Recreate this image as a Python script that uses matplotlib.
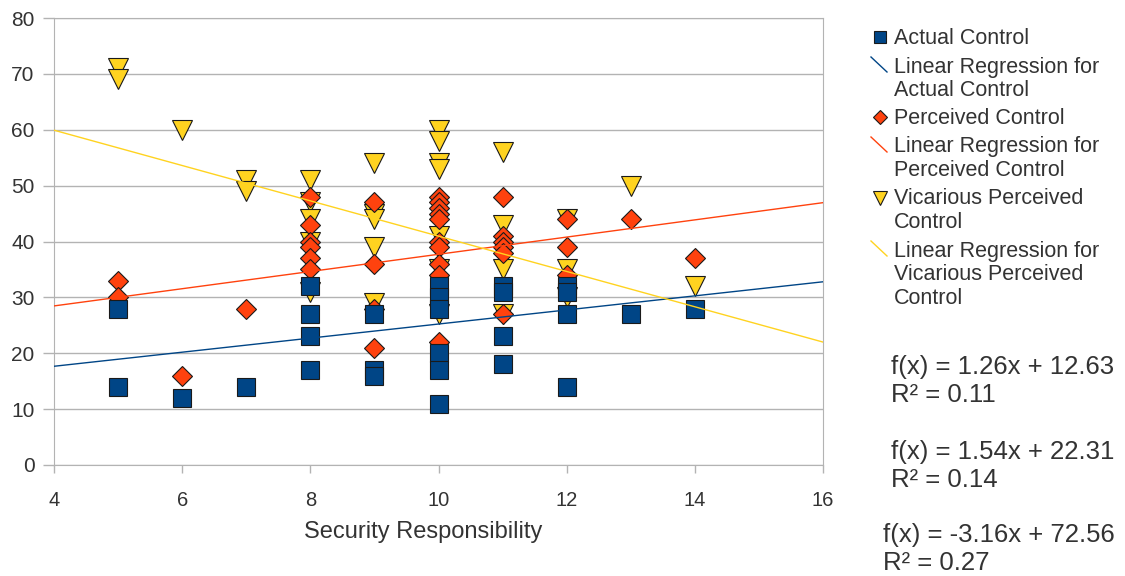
import numpy as np
import matplotlib
matplotlib.use("Agg")
import matplotlib.pyplot as plt
from matplotlib.lines import Line2D

plt.rcParams['font.family'] = ['Liberation Sans', 'DejaVu Sans']

# valores
actual_x = [5, 5, 6, 7, 8, 8, 8, 8, 9, 9, 9, 10, 10, 10, 10, 10, 10,
            11, 11, 11, 11, 12, 12, 12, 12, 13, 14]
actual_y = [28, 14, 12, 14, 32, 27, 23, 17, 27, 17, 16, 32, 30, 28, 20, 17, 11,
            32, 31, 23, 18, 32, 31, 27, 14, 27, 28]

perceived_x = [5, 5, 6, 7, 8, 8, 8, 8, 8, 8, 9, 9, 9, 9,
               10, 10, 10, 10, 10, 10, 10, 10, 10, 10,
               11, 11, 11, 11, 11, 11, 12, 12, 12, 13, 14]
perceived_y = [33, 30, 16, 28, 48, 43, 40, 39, 37, 35, 47, 36, 28, 21,
               48, 47, 46, 45, 44, 40, 39, 36, 34, 22,
               48, 41, 40, 39, 38, 27, 44, 39, 34, 44, 37]

vicarious_x = [5, 5, 6, 7, 7, 8, 8, 8, 8, 8, 9, 9, 9, 9, 9,
               10, 10, 10, 10, 10, 10, 10, 11, 11, 11, 11, 12, 12, 12, 13, 14]
vicarious_y = [71, 69, 60, 51, 49, 51, 47, 44, 40, 31, 54, 45, 44, 39, 29,
               60, 58, 54, 53, 41, 35, 27, 56, 43, 35, 27, 44, 35, 30, 50, 32]

slopes = [1.26, 1.54, -3.16]
intercepts = [12.63, 22.31, 72.56]
r2 = [0.11, 0.14, 0.27]

series_names = ["Actual Control", "Perceived Control", "Vicarious Perceived\nControl"]
reg_names = ["Linear Regression for\nActual Control",
             "Linear Regression for\nPerceived Control",
             "Linear Regression for\nVicarious Perceived\nControl"]

blue = '#004586'
red = '#ff420e'
yellow = '#ffd320'
gray = '#b3b3b3'
txt = '#333333'

W, H = 1125, 576
fig = plt.figure(figsize=(W/100, H/100), dpi=100)
ax = fig.add_axes([54/W, 1-465/H, (823-54)/W, (465-18)/H])

edge = '#1a1a1a'
ax.plot(vicarious_x, vicarious_y, linestyle='none', marker='v', markersize=14,
        markerfacecolor=yellow, markeredgecolor=edge, markeredgewidth=0.8, zorder=3)
ax.plot(perceived_x, perceived_y, linestyle='none', marker='D', markersize=9.7,
        markerfacecolor=red, markeredgecolor=edge, markeredgewidth=0.8, zorder=4)
ax.plot(actual_x, actual_y, linestyle='none', marker='s', markersize=13.5,
        markerfacecolor=blue, markeredgecolor=edge, markeredgewidth=0.8, zorder=5)

xr = np.array([4, 16])
for m, b, c in zip(slopes, intercepts, [blue, red, yellow]):
    ax.plot(xr, m*xr + b, color=c, linewidth=1.0, zorder=6)

ax.set_xlim(4, 16)
ax.set_ylim(0, 80)
ax.set_xticks(np.arange(4, 17, 2))
ax.set_yticks(np.arange(0, 81, 10))
ax.yaxis.grid(True, color=gray, linewidth=1)
ax.set_axisbelow(True)
for s in ax.spines.values():
    s.set_color(gray)
ax.tick_params(axis='y', length=8, width=1, color=gray, pad=6, labelsize=15, labelcolor=txt)
ax.tick_params(axis='x', length=6, width=1, color=gray, pad=13, labelsize=14.5, labelcolor=txt)
ax.set_xlabel("Security Responsibility", fontsize=17, color=txt)
ax.xaxis.set_label_coords((423 - 54) / (823 - 54), -(532 - 465) / (465 - 18))
ax.xaxis.label.set_va('center')


def fx(px):
    return px / W


def fy(py):
    return 1 - py / H


# leyenda manual
line_gap = 23.7
handles = [('s', blue, 9, 38), ('line', blue, 0, 67), ('D', red, 6.7, 118),
           ('line', red, 0, 147), ('v', yellow, 9.5, 199), ('line', yellow, 0, 251)]
labels = [series_names[0], reg_names[0], series_names[1], reg_names[1],
          series_names[2], reg_names[2]]
for (kind, col, ms, yc), lab in zip(handles, labels):
    if kind == 'line':
        fig.add_artist(Line2D([fx(871), fx(887)], [fy(yc-10), fy(yc+5)],
                              transform=fig.transFigure, color=col, linewidth=1))
    else:
        fig.add_artist(Line2D([fx(880)], [fy(yc-1)], transform=fig.transFigure,
                              linestyle='none', marker=kind, markersize=ms,
                              markerfacecolor=col, markeredgecolor=edge,
                              markeredgewidth=0.8))
    for i, part in enumerate(lab.split("\n")):
        fig.text(fx(894), fy(yc + i*line_gap), part, fontsize=15.5, color=txt,
                 ha='left', va='center')

# ecuaciones
eq_x = [891, 891, 883]
eq_y = [367, 452, 535]
for m, b, r, ex, ey in zip(slopes, intercepts, r2, eq_x, eq_y):
    fig.text(fx(ex), fy(ey), f"f(x) = {m:.2f}x + {b:.2f}", fontsize=18.5,
             color=txt, ha='left', va='center')
    fig.text(fx(ex), fy(ey + 28), f"R² = {r:.2f}", fontsize=18.5,
             color=txt, ha='left', va='center')

fig.savefig("out.png", dpi=100)
